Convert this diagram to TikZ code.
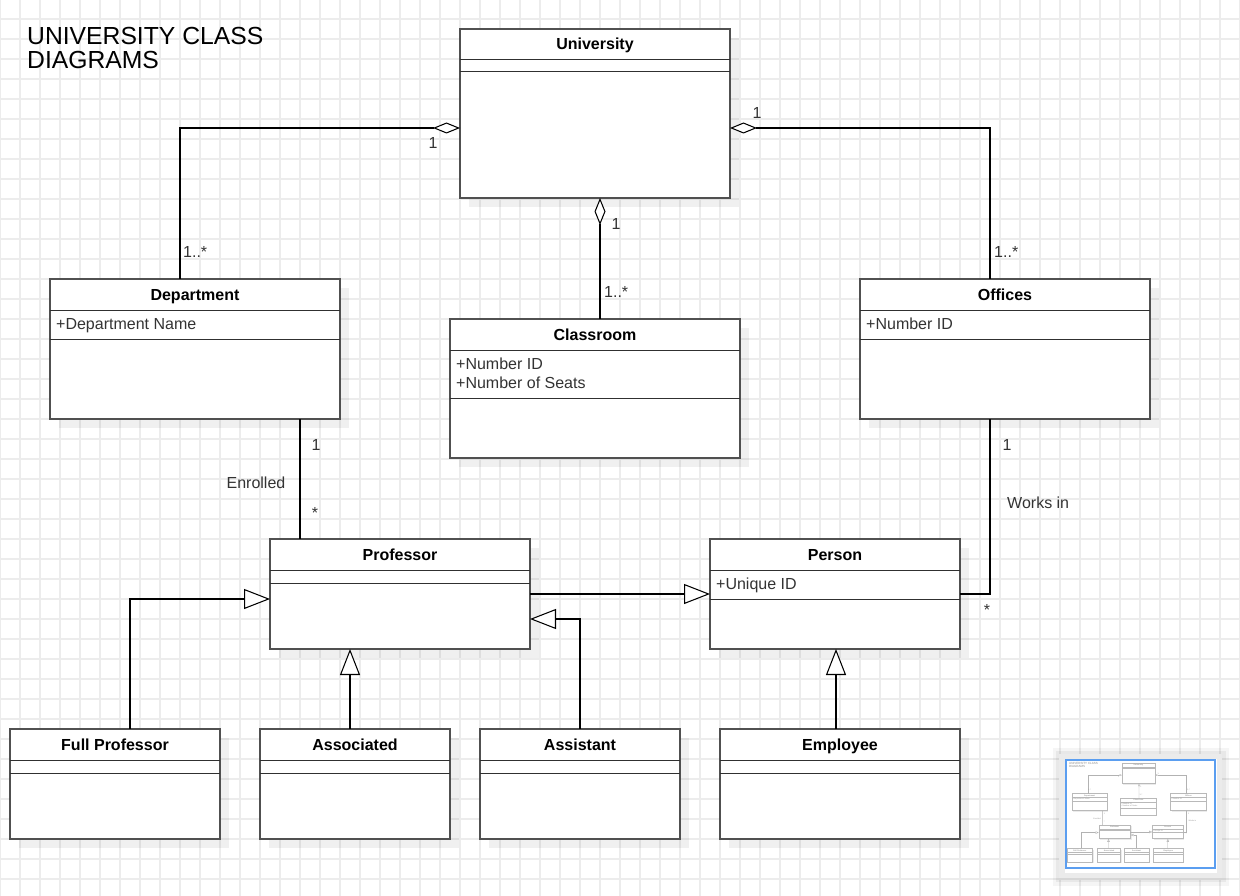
\documentclass[tikz,border=0pt]{standalone}
\usepackage{fontspec}
\setmainfont{Liberation Sans}
\usetikzlibrary{arrows.meta}
\definecolor{gridc}{HTML}{ECECEC}
\definecolor{boxc}{HTML}{505050}
\definecolor{sepc}{HTML}{303030}
\definecolor{txtc}{HTML}{333333}
\definecolor{panelc}{HTML}{EBEBEB}
\definecolor{bluec}{HTML}{5B9EF0}

% #1 name, #2 x, #3 y, #4 width, #5 height, #6 title, #7 offset of second separator
\newcommand\umlclass[7]{%
  \fill[shd] ({#2+9},{#3+9}) rectangle ++(#4,#5);
  \node[cls, minimum width=#4, minimum height=#5, anchor=north west] (#1) at (#2,#3) {};
  \node[clstitle, anchor=base] (#1t) at ({#2+#4/2},{#3+21}) {#6};
  \draw[sepl] (#2,{#3+31}) -- ({#2+#4},{#3+31});
  \draw[sepl] (#2,{#3+#7}) -- ({#2+#4},{#3+#7});
}

\newcommand\umldiagram[1]{%
  \node[bigttl, anchor=base west] (#1title) at (27,69) {UNIVERSITY CLASS\\DIAGRAMS};
  \umlclass{#1uni}{460}{29}{270}{169}{University}{43}
  \umlclass{#1dept}{50}{279}{290}{140}{Department}{60}
  \node[clsattr, anchor=base west] (#1depta) at (56,329) {+Department Name};
  \umlclass{#1room}{450}{319}{290}{139}{Classroom}{79}
  \node[clsattr, anchor=base west] (#1rooma) at (456,388) {+Number ID\\+Number of Seats};
  \umlclass{#1off}{860}{279}{290}{140}{Offices}{60}
  \node[clsattr, anchor=base west] (#1offa) at (866,329) {+Number ID};
  \umlclass{#1prof}{270}{539}{260}{110}{Professor}{44}
  \umlclass{#1pers}{710}{539}{250}{110}{Person}{60}
  \node[clsattr, anchor=base west] (#1persa) at (716,589) {+Unique ID};
  \umlclass{#1fp}{10}{729}{210}{110}{Full Professor}{44}
  \umlclass{#1asc}{260}{729}{190}{110}{Associated}{44}
  \umlclass{#1ast}{480}{729}{200}{110}{Assistant}{44}
  \umlclass{#1emp}{720}{729}{240}{110}{Employee}{44}
  % connector end points
  \path (#1dept.north west) ++(130,0) coordinate (#1c1);
  \path (#1uni.north west) ++(0,99) coordinate (#1c2);
  \path (#1off.north west) ++(130,0) coordinate (#1c3);
  \path (#1uni.north east) ++(0,99) coordinate (#1c4);
  \path (#1room.north west) ++(150,0) coordinate (#1c5);
  \path (#1uni.south west) ++(140,0) coordinate (#1c6);
  \path (#1dept.south west) ++(250,0) coordinate (#1c7);
  \path (#1prof.north west) ++(30,0) coordinate (#1c8);
  \path (#1prof.north east) ++(0,55) coordinate (#1c9);
  \path (#1pers.north west) ++(0,55) coordinate (#1c10);
  \path (#1fp.north west) ++(120,0) coordinate (#1c11);
  \path (#1prof.north west) ++(0,60) coordinate (#1c12);
  \path (#1asc.north west) ++(90,0) coordinate (#1c13);
  \path (#1prof.south west) ++(80,0) coordinate (#1c14);
  \path (#1ast.north west) ++(100,0) coordinate (#1c15);
  \path (#1prof.north east) ++(0,80) coordinate (#1c16);
  \path (#1emp.north west) ++(116,0) coordinate (#1c17);
  \path (#1pers.south west) ++(126,0) coordinate (#1c18);
  \path (#1off.south west) ++(130,0) coordinate (#1c19);
  \path (#1pers.north east) ++(0,55) coordinate (#1c20);
  % connectors
  \draw[aggr] (#1c1) |- (#1c2);
  \draw[aggr] (#1c3) |- (#1c4);
  \draw[aggr] (#1c5) -- (#1c6);
  \draw[conn] (#1c7) -- (#1c8);
  \draw[genarrow] (#1c9) -- (#1c10);
  \draw[genarrow] (#1c11) |- (#1c12);
  \draw[genarrow] (#1c13) -- (#1c14);
  \draw[genarrow] (#1c15) |- (#1c16);
  \draw[genarrow] (#1c17) -- (#1c18);
  \draw[conn] (#1c19) |- (#1c20);
  % labels
  \node[lbl, anchor=base west] (#1l1) at (183,258) {1..*};
  \node[lbl, anchor=base] (#1l2) at (433,149) {1};
  \node[lbl, anchor=base] (#1l3) at (757,119) {1};
  \node[lbl, anchor=base] (#1l4) at (616,230) {1};
  \node[lbl, anchor=base west] (#1l5) at (604,298) {1..*};
  \node[lbl, anchor=base west] (#1l6) at (994,258) {1..*};
  \node[lbl, anchor=base] (#1l7) at (316,450) {1};
  \node[lbl, anchor=base] (#1l8) at (315,518) {*};
  \node[lbl, anchor=base] (#1l9) at (256,488) {Enrolled};
  \node[lbl, anchor=base] (#1l10) at (1007,450) {1};
  \node[lbl, anchor=base west] (#1l11) at (1007,508) {Works in};
  \node[lbl, anchor=base] (#1l12) at (987,615) {*};
}

\begin{document}
\begin{tikzpicture}[x=1pt,y=-1pt,
  gridl/.style={draw=gridc, line width=1.2pt},
  cls/.style={draw=boxc, fill=white, line width=1.5pt, outer sep=0pt, inner sep=0pt, rectangle},
  shd/.style={fill=black, fill opacity=0.06},
  sepl/.style={draw=sepc, line width=1pt},
  clstitle/.style={font=\fontsize{16}{19}\selectfont\bfseries, text=black, inner sep=0pt},
  clsattr/.style={font=\fontsize{16}{19}\selectfont, text=txtc, inner sep=0pt, align=left},
  lbl/.style={font=\fontsize{16}{19}\selectfont, text=txtc, inner sep=0pt},
  bigttl/.style={font=\fontsize{24.7}{24}\selectfont, text=black, inner sep=0pt, align=left},
  conn/.style={draw=black, line width=1.05pt},
  aggr/.style={conn, -{Diamond[length=27pt,width=11pt,fill=white]}},
  genarrow/.style={conn, -{Triangle[length=26pt,width=20pt,fill=white]}}]
\useasboundingbox (0,0) rectangle (1240,896);
\fill[white] (0,0) rectangle (1240,896);
\foreach \i in {0,20,...,1240} \draw[gridl] (\i,0) -- (\i,896);
\foreach \j in {19,39,...,899} \draw[gridl] (0,\j) -- (1240,\j);

\umldiagram{}

% outline thumbnail
\fill[black, opacity=0.04] (1053,748) rectangle (1229,886);
\fill[black, opacity=0.05] (1056,751) rectangle (1226,882);
\fill[panelc] (1059,754) rectangle (1222,878);
\fill[white] (1065,759) rectangle (1217,873);
\begin{scope}[shift={(1065.8,759.5)}, scale=0.122, transform shape,
  cls/.style={draw=gray!55, fill=white, line width=0.5pt, outer sep=0pt, inner sep=0pt, rectangle},
  shd/.style={fill=black, fill opacity=0.08},
  sepl/.style={draw=gray!55, line width=0.35pt},
  clstitle/.style={font=\fontsize{16}{19}\selectfont\bfseries, text=gray!80, inner sep=0pt},
  clsattr/.style={font=\fontsize{16}{19}\selectfont, text=gray!80, inner sep=0pt, align=left},
  lbl/.style={font=\fontsize{16}{19}\selectfont, text=gray!80, inner sep=0pt},
  bigttl/.style={font=\fontsize{24.7}{24}\selectfont, text=gray!90, inner sep=0pt, align=left},
  conn/.style={draw=gray!60, line width=0.4pt},
  aggr/.style={conn, -{Diamond[length=3.4pt,width=1.5pt,fill=white]}},
  genarrow/.style={conn, -{Triangle[length=3.2pt,width=2.4pt,fill=white]}}]
\umldiagram{t}
\end{scope}
\draw[draw=bluec, line width=1.4pt] (1066,760) rectangle (1215,868);
\end{tikzpicture}
\end{document}
